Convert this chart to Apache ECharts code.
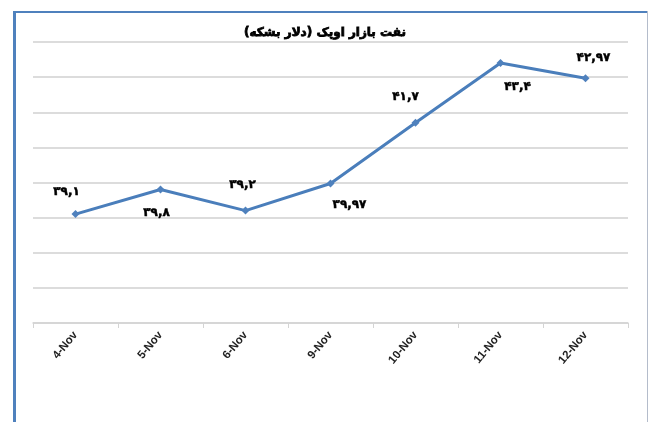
<!DOCTYPE html>
<html>
<head>
<meta charset="utf-8">
<script src="https://cdn.jsdelivr.net/npm/echarts@6/dist/echarts.min.js"></script>
<style>
  html, body { margin: 0; padding: 0; background: #fff; }
  #chart { width: 650px; height: 422px; }
</style>
</head>
<body>
<div id="chart"></div>
<script>
// OPEC basket price (USD per barrel)
const titleText = 'نفت بازار اوپک (دلار بشکه)';
const days = ['4-Nov', '5-Nov', '6-Nov', '9-Nov', '10-Nov', '11-Nov', '12-Nov'];
const prices = [39.1, 39.8, 39.2, 39.97, 41.7, 43.4, 42.97];
// label offsets [dx, dy] relative to each marker, as in the original
const labelOffsets = [[-9, -22], [-4, 23], [-3, -26], [19, 21], [-10, -26], [17, 24], [8, -20]];

const persianDigits = '۰۱۲۳۴۵۶۷۸۹';
function toPersian(v) {
  return String(v).replace('.', ',').replace(/[0-9]/g, d => persianDigits[+d]);
}

const chart = echarts.init(document.getElementById('chart'));

const option = {
  animation: false,
  title: {
    text: titleText,
    left: 'center',
    top: 22,
    textStyle: {
      fontFamily: 'DejaVu Sans',
      fontSize: 12,
      fontWeight: 'bold',
      color: '#000',
      textBorderColor: '#000',
      textBorderWidth: 0.8
    }
  },
  grid: {
    left: 33,
    right: 22,
    top: 42,
    bottom: 99
  },
  xAxis: {
    type: 'category',
    data: days,
    boundaryGap: true,
    axisLine: { lineStyle: { color: '#d4d4d4', width: 1.5 } },
    axisTick: { show: true, length: 5, alignWithLabel: false, lineStyle: { color: '#d4d4d4' } },
    axisLabel: {
      rotate: 50,
      margin: 10,
      fontFamily: 'Liberation Sans',
      fontWeight: 'bold',
      fontSize: 11.5,
      color: '#222'
    }
  },
  yAxis: {
    type: 'value',
    min: 36,
    max: 44,
    interval: 1,
    axisLine: { show: false },
    axisTick: { show: false },
    axisLabel: { show: false },
    splitLine: { lineStyle: { color: '#d0d0d0', width: 1.5 } }
  },
  series: [{
    type: 'line',
    data: prices.map((v, i) => ({
      value: v,
      label: { offset: labelOffsets[i] }
    })),
    symbol: 'diamond',
    symbolSize: 8,
    lineStyle: { color: '#4a7ebb', width: 3 },
    itemStyle: { color: '#4f81bd' },
    label: {
      show: true,
      position: 'inside',
      formatter: p => toPersian(p.value),
      fontFamily: 'DejaVu Sans',
      fontWeight: 'bold',
      fontSize: 12,
      color: '#000',
      textBorderColor: '#000',
      textBorderWidth: 0.5
    }
  }],
  graphic: [
    // chart frame
    { type: 'rect', left: 13, top: 11, shape: { width: 3, height: 411 }, style: { fill: '#4f81bd' } },
    { type: 'rect', left: 13, top: 11, shape: { width: 635, height: 2 }, style: { fill: '#4f81bd' } },
    { type: 'rect', left: 647, top: 11, shape: { width: 1, height: 411 }, style: { fill: '#b4bccb' } }
  ]
};

chart.setOption(option);
</script>
</body>
</html>
